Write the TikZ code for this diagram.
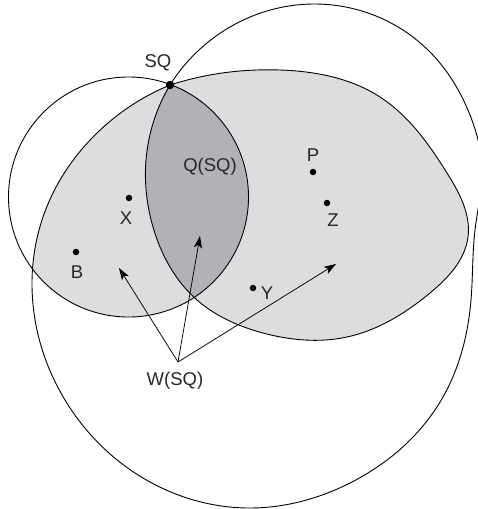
\documentclass[tikz,border=0pt]{standalone}
\usepackage{fontspec}
\newfontfamily\labfont{Liberation Sans}
\usetikzlibrary{arrows.meta,hobby}
\definecolor{lightg}{RGB}{220,221,223}
\definecolor{darkg}{RGB}{177,178,181}
\tikzset{
  outline/.style={draw=black, line width=0.9pt},
  lab/.style={font=\labfont\fontsize{18.5}{20}\selectfont, inner sep=0pt, text=black!85},
  pt/.style={circle, fill=black, inner sep=0pt, minimum size=6.5pt},
  arr/.style={line width=0.75pt, -{Stealth[length=12pt,width=8pt,inset=3pt]}}
}
\def\smallcircle{(128.5,197) circle (120pt)}
\def\bigcircle{plot[hobby] coordinates {(170,85) (230,27) (313,4) (430,52) (470,115) (482,170) (475,230) (471,300) (443,397) (350,483) (250,508) (150,482) (65,400) (32,285) (43,217) (97,133) (170,85)} -- cycle}
\def\eggshape{plot[hobby] coordinates {(170,85) (230,72) (280,70) (380,97) (447,173) (468,237) (430,293) (347,337) (263,333) (197,300) (153,227) (146,160) (170,85)} -- cycle}
\begin{document}
\begin{tikzpicture}[x=1pt, y=-1pt]
\useasboundingbox (0,0) rectangle (478,509);
% fills
\fill[lightg] \eggshape;
\begin{scope}
  \clip \smallcircle;
  \fill[lightg] \bigcircle;
  \fill[darkg] \eggshape;
\end{scope}
% outlines
\draw[outline] \smallcircle;
\draw[outline] \bigcircle;
\draw[outline] \eggshape;
% points
\node[pt, minimum size=8.5pt] (sq) at (170,85) {};
\node[pt] (x) at (129,198) {};
\node[pt] (b) at (76,252) {};
\node[pt] (p) at (313,172) {};
\node[pt] (z) at (327,203) {};
\node[pt] (y) at (253,288) {};
% labels
\node[lab] (lsq) at (158,63) {SQ};
\node[lab] (lq) at (210,167) {Q(SQ)};
\node[lab] (lx) at (126,218) {X};
\node[lab] (lb) at (77,272) {B};
\node[lab] (lp) at (313,155) {P};
\node[lab] (lz) at (333,220) {Z};
\node[lab] (ly) at (267,293) {Y};
\node[lab] (lw) at (175,381) {W(SQ)};
% arrows
\coordinate (w) at (178,362);
\coordinate (t1) at (119,268);
\coordinate (t2) at (200,236);
\coordinate (t3) at (336,264);
\draw[arr] (w) -- (t1);
\draw[arr] (w) -- (t2);
\draw[arr] (w) -- (t3);
\end{tikzpicture}
\end{document}
